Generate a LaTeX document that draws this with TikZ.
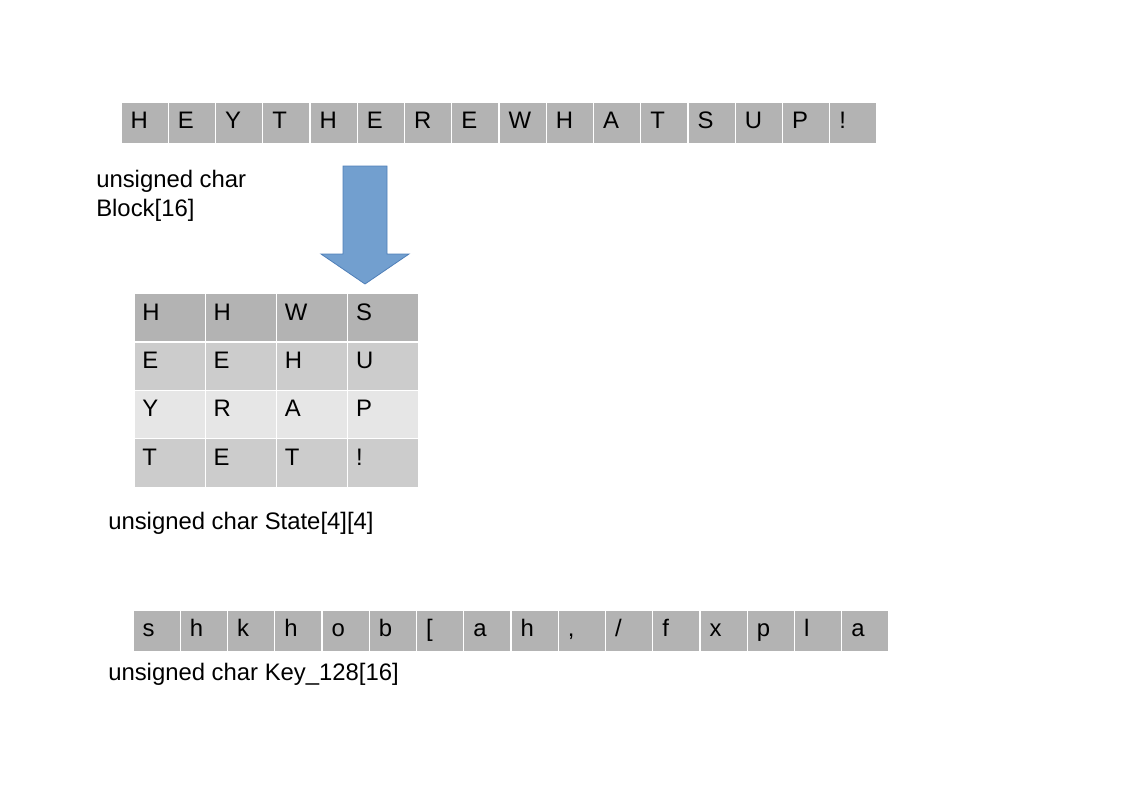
\documentclass[tikz,border=0pt]{standalone}
\usepackage{fontspec}
\setmainfont{Liberation Sans}
\definecolor{celldark}{HTML}{B3B3B3}
\definecolor{cellmid}{HTML}{CCCCCC}
\definecolor{celllight}{HTML}{E6E6E6}
\definecolor{arrowfill}{HTML}{729FCF}
\definecolor{arrowedge}{HTML}{4F7FB8}
\begin{document}
\begin{tikzpicture}[x=0.75pt, y=-0.75pt,
        font=\fontsize{17.9}{20.7}\selectfont,
        rowcell/.style={rectangle, draw=white, line width=1pt, fill=celldark, inner xsep=7.2pt, inner ysep=7pt, text width=21.04pt, align=left, text height=12.9pt, text depth=4.1pt},
        statecell/.style={rectangle, draw=white, line width=1pt, inner xsep=6.3pt, inner ysep=7pt, text width=40.84pt, align=left, text height=12.9pt, text depth=9.54pt},
        caption/.style={anchor=base west, inner sep=0pt, align=left}]
    \useasboundingbox (0,0) rectangle (1123,794);

    % input block
    \foreach \t [count=\i from 0] in {H,E,Y,T,H,E,R,E,W,H,A,T,S,U,P,!}
        \node[rowcell] (blk\i) at ({121+47.25*(\i+0.5)}, 122.5) {\t};
    \node[caption] (blklabel) at (96, 216) {unsigned char\\[0.5pt]Block[16]};

    % arrow
    \draw[fill=arrowfill, draw=arrowedge, line width=0.6pt] (343,166) -- (387,166) -- (387,254) -- (409,254) -- (365,284) -- (321,254) -- (343,254) -- cycle;

    % state matrix
    \foreach \t [count=\c from 0] in {H,H,W,S}
        \node[statecell, fill=celldark] (st0\c) at ({134+71.25*(\c+0.5)}, 318.1) {\t};
    \foreach \t [count=\c from 0] in {E,E,H,U}
        \node[statecell, fill=cellmid] (st1\c) at ({134+71.25*(\c+0.5)}, 366.4) {\t};
    \foreach \t [count=\c from 0] in {Y,R,A,P}
        \node[statecell, fill=celllight] (st2\c) at ({134+71.25*(\c+0.5)}, 414.6) {\t};
    \foreach \t [count=\c from 0] in {T,E,T,!}
        \node[statecell, fill=cellmid] (st3\c) at ({134+71.25*(\c+0.5)}, 462.9) {\t};
    \node[caption] (stlabel) at (108, 529) {unsigned char State[4][4]};

    % key
    \foreach \t [count=\i from 0] in {s,h,k,h,o,b,[,a,h,{,},/,f,x,p,l,a}
        \node[rowcell] (key\i) at ({133+47.25*(\i+0.5)}, 630.5) {\t};
    \node[caption] (keylabel) at (108, 680) {unsigned char Key\_128[16]};
\end{tikzpicture}
\end{document}
